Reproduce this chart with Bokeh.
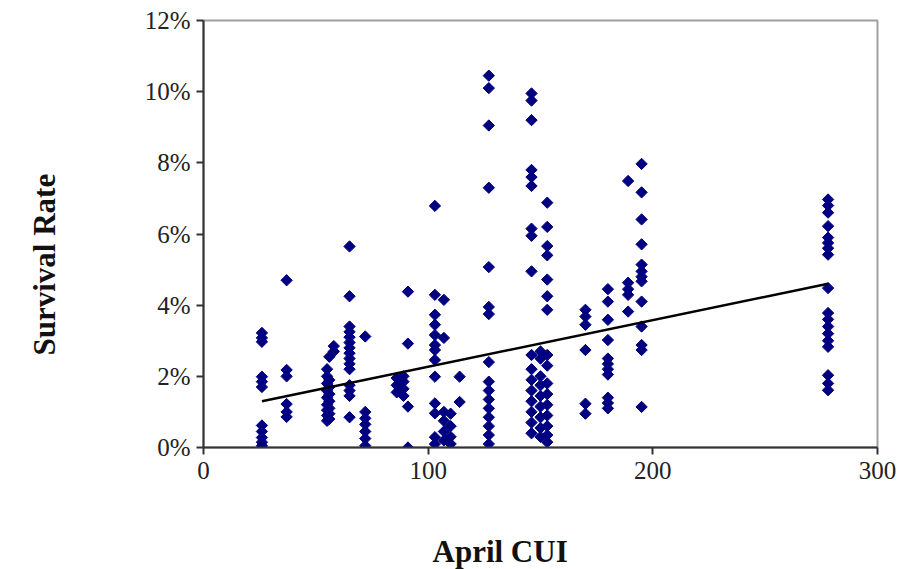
from bokeh.plotting import figure
from bokeh.models import PrintfTickFormatter, FixedTicker, Range1d, Title
from bokeh.embed import file_html
from bokeh.resources import INLINE

# April CUI values of each station cluster
cui = [26, 37, 55, 56, 58, 65, 72, 86, 89, 91, 103, 107, 110, 114,
       127, 146, 150, 153, 170, 180, 189, 195, 278]

# Survival rate (%) observed at each CUI value
rates = [
    [3.22, 3.08, 2.97, 1.99, 1.85, 1.70, 0.62, 0.45, 0.28, 0.15, 0.05],
    [4.70, 2.18, 2.00, 1.22, 1.00, 0.86],
    [2.20, 2.00, 1.80, 1.60, 1.40, 1.20, 1.05, 0.90, 0.75],
    [2.55, 1.90, 1.70, 1.50, 1.30, 1.10, 0.95, 0.80],
    [2.85, 2.70],
    [5.65, 4.25, 3.40, 3.25, 3.10, 2.95, 2.80, 2.65, 2.50, 2.35, 2.20,
     1.75, 1.60, 1.45, 0.85],
    [3.12, 1.00, 0.82, 0.65, 0.45, 0.25, 0.05],
    [1.95, 1.75, 1.55],
    [2.00, 1.85, 1.65, 1.45],
    [4.38, 2.92, 1.15, 0.00],
    [6.79, 4.29, 3.73, 3.45, 3.16, 2.88, 2.74, 2.46, 1.99, 1.24, 0.96, 0.29, 0.10],
    [4.15, 3.08, 1.00, 0.75, 0.45, 0.20],
    [0.95, 0.60, 0.30, 0.10],
    [1.99, 1.28],
    [10.45, 10.10, 9.05, 7.30, 5.07, 3.95, 3.75, 2.40, 1.85, 1.60, 1.35,
     1.10, 0.85, 0.60, 0.35, 0.10],
    [9.95, 9.75, 9.20, 7.80, 7.60, 7.35, 6.15, 5.95, 4.95, 2.60, 2.20,
     1.90, 1.60, 1.30, 1.00, 0.70, 0.40],
    [2.70, 2.50, 2.00, 1.75, 1.45, 1.15, 0.85, 0.55, 0.30],
    [6.88, 6.20, 5.66, 5.40, 4.72, 4.25, 3.87, 2.60, 2.30, 1.80, 1.50,
     1.20, 0.90, 0.60, 0.35, 0.15],
    [3.87, 3.68, 3.45, 2.74, 1.23, 0.95],
    [4.45, 4.10, 3.59, 3.02, 2.50, 2.35, 2.20, 2.05, 1.40, 1.25, 1.10],
    [7.49, 4.63, 4.45, 4.29, 3.82],
    [7.97, 7.17, 6.41, 5.71, 5.14, 4.95, 4.80, 4.67, 4.10, 3.40, 2.88, 2.74, 1.14],
    [6.97, 6.80, 6.60, 6.22, 5.90, 5.75, 5.60, 5.42, 4.48, 3.78, 3.60, 3.40,
     3.20, 3.00, 2.83, 2.03, 1.80, 1.61],
]

# Linear trend line (percent = intercept + slope * CUI)
trend_intercept = 0.96
trend_slope = 0.0131

x_ticks = [0, 100, 200, 300]
y_ticks = [0, 2, 4, 6, 8, 10, 12]
x_title = "April CUI"
y_title = "Survival Rate"

xs, ys = [], []
for c, r in zip(cui, rates):
    xs += [c] * len(r)
    ys += r

p = figure(width=904, height=569, output_backend="svg", toolbar_location=None,
           x_range=Range1d(0, 300), y_range=Range1d(0, 12),
           min_border_left=203, min_border_right=27,
           min_border_top=20, min_border_bottom=122)
p.background_fill_color = "white"
p.border_fill_color = "white"
p.outline_line_color = "#a0a0a0"
p.outline_line_width = 2
p.xgrid.visible = False
p.ygrid.visible = False

p.scatter(xs, ys, marker="square", angle=0.785398, size=8,
          fill_color="#000080", line_color="#000080", line_width=1)

tx = [min(cui), max(cui)]
p.line(tx, [trend_intercept + trend_slope * v for v in tx],
       line_color="black", line_width=2.5)

font = "Liberation Serif"
for ax in (p.xaxis[0], p.yaxis[0]):
    ax.axis_line_color = "#333333"
    ax.axis_line_width = 2
    ax.major_tick_line_color = "#333333"
    ax.major_tick_line_width = 2
    ax.major_tick_out = 7
    ax.major_tick_in = 0
    ax.minor_tick_line_color = None
    ax.major_label_text_font = font
    ax.major_label_text_font_size = "25px"
    ax.major_label_text_color = "#222222"
    # blank, tiny axis label used only as a spacer before the side title
    ax.axis_label = " "
    ax.axis_label_text_font_size = "1px"

p.xaxis.ticker = FixedTicker(ticks=x_ticks)
p.yaxis.ticker = FixedTicker(ticks=y_ticks)
p.yaxis.formatter = PrintfTickFormatter(format="%d%%")
p.xaxis.major_label_standoff = 7
p.yaxis.major_label_standoff = 6
p.xaxis.axis_label_standoff = 46
p.yaxis.axis_label_standoff = 76

# Axis titles as side titles so they can be shifted along the axis
p.add_layout(Title(text=x_title, align="left", offset=229, standoff=0,
                   vertical_align="bottom",
                   text_font=font, text_font_style="bold",
                   text_font_size="31px", text_color="#111111"), "below")
p.add_layout(Title(text=y_title, align="left", offset=92, standoff=0,
                   vertical_align="bottom",
                   text_font=font, text_font_style="bold",
                   text_font_size="31px", text_color="#111111"), "left")

open("out.html", "w").write(file_html(p, INLINE))
